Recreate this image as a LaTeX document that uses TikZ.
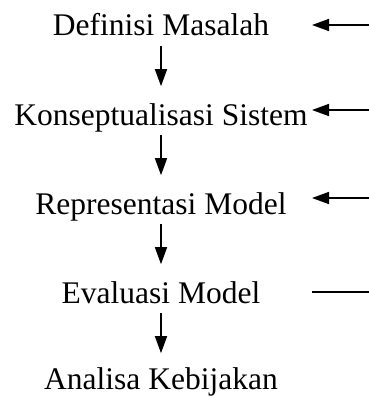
\documentclass[tikz,border=0pt]{standalone}
\usepackage{fontspec}
\setmainfont{Liberation Serif}
\usetikzlibrary{arrows.meta}
\begin{document}
\begin{tikzpicture}[x=1pt,y=-1pt,
    every node/.style={inner sep=0pt,anchor=base,text height=22pt,text depth=7pt,
      font=\fontsize{31.5}{36}\selectfont},
    every path/.style={line width=1.6pt},
    >={Triangle[length=17pt,width=12pt]}]
      \useasboundingbox (0,0) rectangle (368,396);
      \draw
        (161,36) node (0){Definisi Masalah}
        (161,125) node (1){Konseptualisasi Sistem}
        (161,214) node (2){Representasi Model}
        (161,303) node (3){Evaluasi Model}
        (161,389) node (4){Analisa Kebijakan};
      \coordinate (f0) at (312,25);
      \coordinate (f1) at (312,110);
      \coordinate (f2) at (312,198);
      \coordinate (f3) at (312,292);
      \coordinate (r0) at (370,25);
      \coordinate (r1) at (370,110);
      \coordinate (r2) at (370,198);
      \coordinate (r3) at (370,292);
      \begin{scope}[->,shorten <=2pt,shorten >=16pt]
        \draw (0.south) to (1.north);
        \draw (1.south) to (2.north);
        \draw (2.south) to (3.north);
        \draw (3.south) to ([yshift=-3pt]4.north);
      \end{scope}
      \begin{scope}[->]
        \draw (r0) to (f0);
        \draw (r1) to (f1);
        \draw (r2) to (f2);
      \end{scope}
      \draw (r3) to (f3);
    \end{tikzpicture}
\end{document}
